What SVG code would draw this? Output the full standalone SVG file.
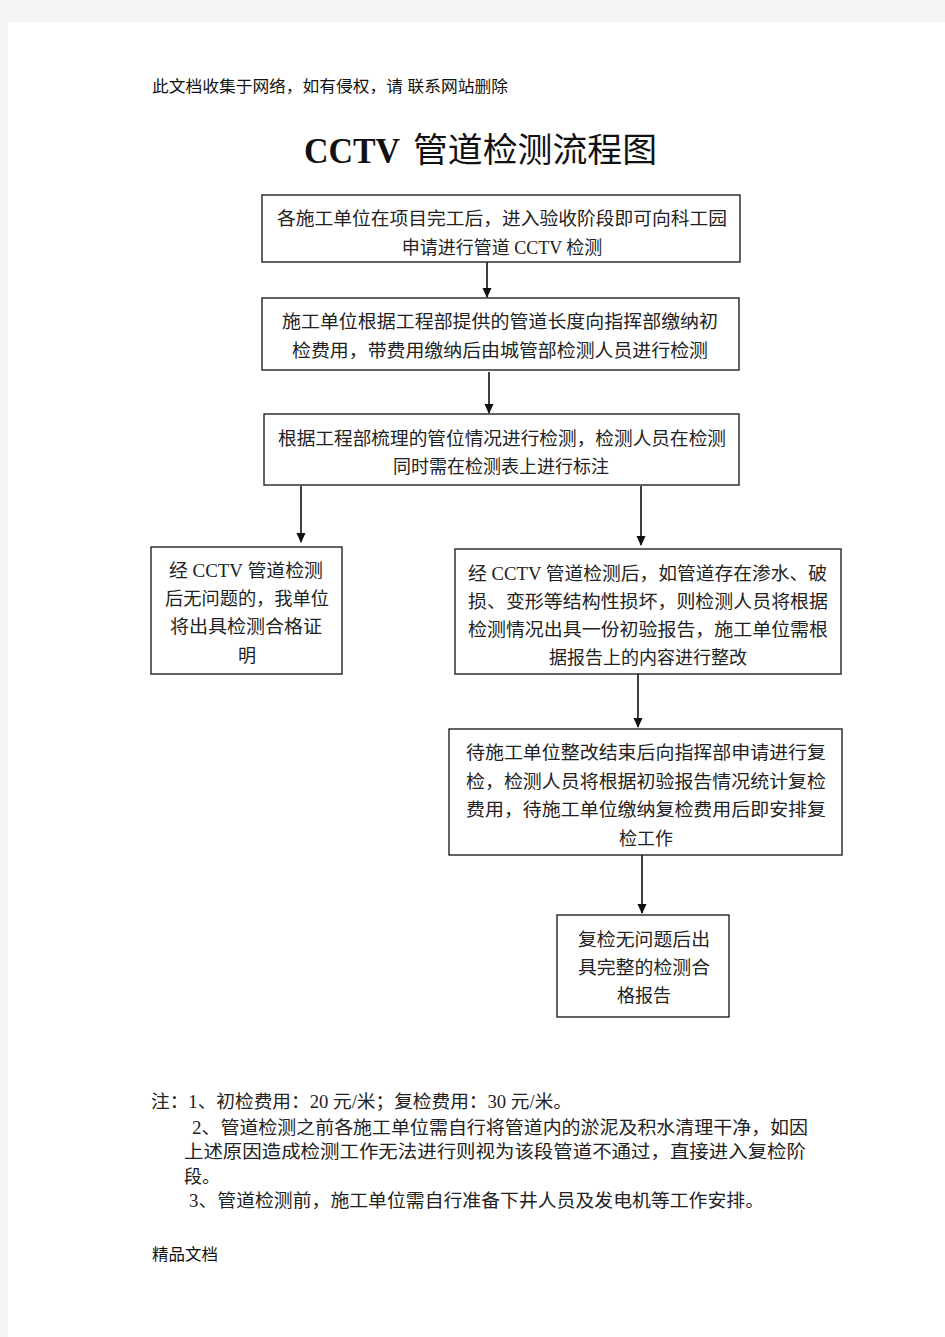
<svg xmlns="http://www.w3.org/2000/svg" width="945" height="1337" viewBox="0 0 945 1337">
<defs>
<style>
.box{fill:#fff;stroke:#222;stroke-width:1.4}
.t{font-family:"Liberation Serif","Noto Sans CJK SC",serif;font-size:18px;fill:#222}
.c{text-anchor:middle}
.h{font-family:"Liberation Sans","Noto Sans CJK SC",sans-serif;font-size:16px;fill:#111}
.ln{stroke:#111;stroke-width:1.6;fill:none}
</style>
<marker id="ah" markerWidth="11" markerHeight="11" refX="9" refY="5.5" orient="auto" markerUnits="userSpaceOnUse">
<path d="M0,1 L10,5.5 L0,10 Z" fill="#111"/>
</marker>
</defs>
<rect x="0" y="0" width="945" height="1337" fill="#f4f4f4"/>
<rect x="8" y="22" width="937" height="1315" fill="#fff"/>

<text class="h" x="152" y="92" textLength="356" lengthAdjust="spacingAndGlyphs">此文档收集于网络，如有侵权，请 联系网站删除</text>
<text x="304" y="163" font-family="Liberation Serif,serif" font-size="36" font-weight="bold" fill="#111" textLength="96" lengthAdjust="spacingAndGlyphs">CCTV</text>
<text x="413" y="162" font-family="Noto Sans CJK SC,sans-serif" font-size="34" fill="#111" textLength="244" lengthAdjust="spacingAndGlyphs">管道检测流程图</text>

<g id="connectors">
<line class="ln" x1="487" y1="262" x2="487" y2="297" marker-end="url(#ah)"/>
<line class="ln" x1="489" y1="372" x2="489" y2="413" marker-end="url(#ah)"/>
<line class="ln" x1="301" y1="486" x2="301" y2="542" marker-end="url(#ah)"/>
<line class="ln" x1="641" y1="486" x2="641" y2="545" marker-end="url(#ah)"/>
<line class="ln" x1="638" y1="674" x2="638" y2="727" marker-end="url(#ah)"/>
<line class="ln" x1="642" y1="855" x2="642" y2="913" marker-end="url(#ah)"/>
</g>

<g id="n1">
<rect class="box" x="262" y="195" width="478" height="67"/>
<text class="t" x="277" y="225" textLength="450" lengthAdjust="spacingAndGlyphs">各施工单位在项目完工后，进入验收阶段即可向科工园</text>
<text class="t c" x="502" y="254">申请进行管道 CCTV 检测</text>
</g>
<g id="n2">
<rect class="box" x="262" y="298" width="477" height="72"/>
<text class="t" x="282" y="328" textLength="436" lengthAdjust="spacingAndGlyphs">施工单位根据工程部提供的管道长度向指挥部缴纳初</text>
<text class="t" x="292" y="357" textLength="416" lengthAdjust="spacingAndGlyphs">检费用，带费用缴纳后由城管部检测人员进行检测</text>
</g>
<g id="n3">
<rect class="box" x="264" y="414" width="475" height="71"/>
<text class="t" x="278" y="445" textLength="448" lengthAdjust="spacingAndGlyphs">根据工程部梳理的管位情况进行检测，检测人员在检测</text>
<text class="t c" x="501" y="473">同时需在检测表上进行标注</text>
</g>
<g id="n4">
<rect class="box" x="151" y="547" width="191" height="127"/>
<text class="t" x="169" y="577" textLength="154" lengthAdjust="spacingAndGlyphs">经 CCTV 管道检测</text>
<text class="t" x="165" y="605" textLength="164" lengthAdjust="spacingAndGlyphs">后无问题的，我单位</text>
<text class="t" x="170" y="633" textLength="152" lengthAdjust="spacingAndGlyphs">将出具检测合格证</text>
<text class="t c" x="247" y="662">明</text>
</g>
<g id="n5">
<rect class="box" x="455" y="549" width="386" height="125"/>
<text class="t" x="468" y="580" textLength="359" lengthAdjust="spacingAndGlyphs">经 CCTV 管道检测后，如管道存在渗水、破</text>
<text class="t" x="468" y="608" textLength="360" lengthAdjust="spacingAndGlyphs">损、变形等结构性损坏，则检测人员将根据</text>
<text class="t" x="468" y="636" textLength="360" lengthAdjust="spacingAndGlyphs">检测情况出具一份初验报告，施工单位需根</text>
<text class="t c" x="648" y="664">据报告上的内容进行整改</text>
</g>
<g id="n6">
<rect class="box" x="449" y="729" width="393" height="126"/>
<text class="t" x="466" y="759" textLength="360" lengthAdjust="spacingAndGlyphs">待施工单位整改结束后向指挥部申请进行复</text>
<text class="t" x="466" y="788" textLength="360" lengthAdjust="spacingAndGlyphs">检，检测人员将根据初验报告情况统计复检</text>
<text class="t" x="466" y="816" textLength="360" lengthAdjust="spacingAndGlyphs">费用，待施工单位缴纳复检费用后即安排复</text>
<text class="t c" x="646" y="845">检工作</text>
</g>
<g id="n7">
<rect class="box" x="557" y="915" width="172" height="102"/>
<text class="t" x="578" y="946" textLength="132" lengthAdjust="spacingAndGlyphs">复检无问题后出</text>
<text class="t" x="578" y="974" textLength="132" lengthAdjust="spacingAndGlyphs">具完整的检测合</text>
<text class="t c" x="644" y="1002">格报告</text>
</g>

<g id="notes">
<text class="t" x="151" y="1108" textLength="421" lengthAdjust="spacingAndGlyphs">注：1、初检费用：20 元/米；复检费用：30 元/米。</text>
<text class="t" x="192" y="1134" textLength="616" lengthAdjust="spacingAndGlyphs">2、管道检测之前各施工单位需自行将管道内的淤泥及积水清理干净，如因</text>
<text class="t" x="184" y="1158" textLength="622" lengthAdjust="spacingAndGlyphs">上述原因造成检测工作无法进行则视为该段管道不通过，直接进入复检阶</text>
<text class="t" x="184" y="1183">段。</text>
<text class="t" x="189" y="1207" textLength="575" lengthAdjust="spacingAndGlyphs">3、管道检测前，施工单位需自行准备下井人员及发电机等工作安排。</text>
</g>
<text class="h" x="152" y="1260" textLength="66" lengthAdjust="spacingAndGlyphs">精品文档</text>
</svg>
